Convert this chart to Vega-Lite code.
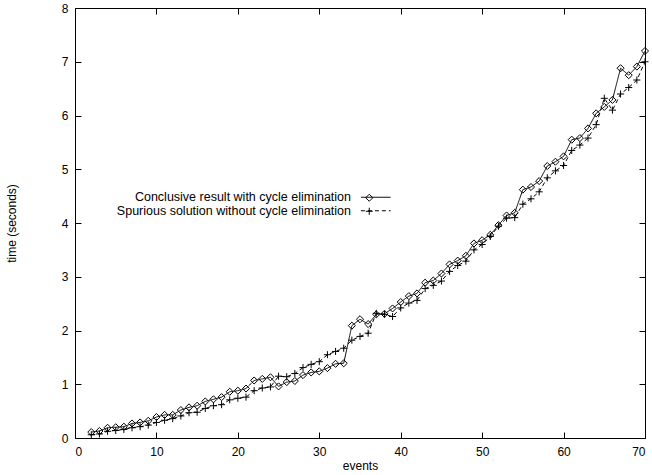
{
  "$schema": "https://vega.github.io/schema/vega-lite/v6.json",
  "width": 570,
  "height": 430,
  "autosize": {"type": "none"},
  "padding": {"left": 75, "top": 8, "right": 7, "bottom": 37},
  "background": "white",
  "config": {
    "view": {"stroke": "black", "strokeWidth": 1},
    "axis": {
      "domain": false, "grid": false, "tickColor": "black", "tickSize": -6, "tickWidth": 1,
      "labelFont": "Liberation Sans", "labelFontSize": 12, "labelColor": "black",
      "titleFont": "Liberation Sans", "titleFontSize": 12, "titleFontWeight": "normal", "titleColor": "black"
    }
  },
  "datasets": {
    "d": [
      {"events": 2, "series": "Conclusive result with cycle elimination", "time": 0.11},
      {"events": 3, "series": "Conclusive result with cycle elimination", "time": 0.13},
      {"events": 4, "series": "Conclusive result with cycle elimination", "time": 0.19},
      {"events": 5, "series": "Conclusive result with cycle elimination", "time": 0.2},
      {"events": 6, "series": "Conclusive result with cycle elimination", "time": 0.21},
      {"events": 7, "series": "Conclusive result with cycle elimination", "time": 0.27},
      {"events": 8, "series": "Conclusive result with cycle elimination", "time": 0.29},
      {"events": 9, "series": "Conclusive result with cycle elimination", "time": 0.32},
      {"events": 10, "series": "Conclusive result with cycle elimination", "time": 0.39},
      {"events": 11, "series": "Conclusive result with cycle elimination", "time": 0.43},
      {"events": 12, "series": "Conclusive result with cycle elimination", "time": 0.43},
      {"events": 13, "series": "Conclusive result with cycle elimination", "time": 0.52},
      {"events": 14, "series": "Conclusive result with cycle elimination", "time": 0.57},
      {"events": 15, "series": "Conclusive result with cycle elimination", "time": 0.6},
      {"events": 16, "series": "Conclusive result with cycle elimination", "time": 0.68},
      {"events": 17, "series": "Conclusive result with cycle elimination", "time": 0.72},
      {"events": 18, "series": "Conclusive result with cycle elimination", "time": 0.76},
      {"events": 19, "series": "Conclusive result with cycle elimination", "time": 0.86},
      {"events": 20, "series": "Conclusive result with cycle elimination", "time": 0.88},
      {"events": 21, "series": "Conclusive result with cycle elimination", "time": 0.92},
      {"events": 22, "series": "Conclusive result with cycle elimination", "time": 1.07},
      {"events": 23, "series": "Conclusive result with cycle elimination", "time": 1.1},
      {"events": 24, "series": "Conclusive result with cycle elimination", "time": 1.13},
      {"events": 25, "series": "Conclusive result with cycle elimination", "time": 0.96},
      {"events": 26, "series": "Conclusive result with cycle elimination", "time": 1.04},
      {"events": 27, "series": "Conclusive result with cycle elimination", "time": 1.06},
      {"events": 28, "series": "Conclusive result with cycle elimination", "time": 1.17},
      {"events": 29, "series": "Conclusive result with cycle elimination", "time": 1.22},
      {"events": 30, "series": "Conclusive result with cycle elimination", "time": 1.24},
      {"events": 31, "series": "Conclusive result with cycle elimination", "time": 1.3},
      {"events": 32, "series": "Conclusive result with cycle elimination", "time": 1.38},
      {"events": 33, "series": "Conclusive result with cycle elimination", "time": 1.39},
      {"events": 34, "series": "Conclusive result with cycle elimination", "time": 2.09},
      {"events": 35, "series": "Conclusive result with cycle elimination", "time": 2.21},
      {"events": 36, "series": "Conclusive result with cycle elimination", "time": 2.12},
      {"events": 37, "series": "Conclusive result with cycle elimination", "time": 2.3},
      {"events": 38, "series": "Conclusive result with cycle elimination", "time": 2.31},
      {"events": 39, "series": "Conclusive result with cycle elimination", "time": 2.41},
      {"events": 40, "series": "Conclusive result with cycle elimination", "time": 2.53},
      {"events": 41, "series": "Conclusive result with cycle elimination", "time": 2.64},
      {"events": 42, "series": "Conclusive result with cycle elimination", "time": 2.69},
      {"events": 43, "series": "Conclusive result with cycle elimination", "time": 2.89},
      {"events": 44, "series": "Conclusive result with cycle elimination", "time": 2.93},
      {"events": 45, "series": "Conclusive result with cycle elimination", "time": 3.06},
      {"events": 46, "series": "Conclusive result with cycle elimination", "time": 3.23},
      {"events": 47, "series": "Conclusive result with cycle elimination", "time": 3.3},
      {"events": 48, "series": "Conclusive result with cycle elimination", "time": 3.39},
      {"events": 49, "series": "Conclusive result with cycle elimination", "time": 3.62},
      {"events": 50, "series": "Conclusive result with cycle elimination", "time": 3.68},
      {"events": 51, "series": "Conclusive result with cycle elimination", "time": 3.78},
      {"events": 52, "series": "Conclusive result with cycle elimination", "time": 3.96},
      {"events": 53, "series": "Conclusive result with cycle elimination", "time": 4.14},
      {"events": 54, "series": "Conclusive result with cycle elimination", "time": 4.19},
      {"events": 55, "series": "Conclusive result with cycle elimination", "time": 4.62},
      {"events": 56, "series": "Conclusive result with cycle elimination", "time": 4.67},
      {"events": 57, "series": "Conclusive result with cycle elimination", "time": 4.78},
      {"events": 58, "series": "Conclusive result with cycle elimination", "time": 5.06},
      {"events": 59, "series": "Conclusive result with cycle elimination", "time": 5.14},
      {"events": 60, "series": "Conclusive result with cycle elimination", "time": 5.24},
      {"events": 61, "series": "Conclusive result with cycle elimination", "time": 5.55},
      {"events": 62, "series": "Conclusive result with cycle elimination", "time": 5.58},
      {"events": 63, "series": "Conclusive result with cycle elimination", "time": 5.76},
      {"events": 64, "series": "Conclusive result with cycle elimination", "time": 6.04},
      {"events": 65, "series": "Conclusive result with cycle elimination", "time": 6.16},
      {"events": 66, "series": "Conclusive result with cycle elimination", "time": 6.29},
      {"events": 67, "series": "Conclusive result with cycle elimination", "time": 6.88},
      {"events": 68, "series": "Conclusive result with cycle elimination", "time": 6.75},
      {"events": 69, "series": "Conclusive result with cycle elimination", "time": 6.91},
      {"events": 70, "series": "Conclusive result with cycle elimination", "time": 7.2},
      {"events": 2, "series": "Spurious solution without cycle elimination", "time": 0.06},
      {"events": 3, "series": "Spurious solution without cycle elimination", "time": 0.075},
      {"events": 4, "series": "Spurious solution without cycle elimination", "time": 0.125},
      {"events": 5, "series": "Spurious solution without cycle elimination", "time": 0.14},
      {"events": 6, "series": "Spurious solution without cycle elimination", "time": 0.16},
      {"events": 7, "series": "Spurious solution without cycle elimination", "time": 0.19},
      {"events": 8, "series": "Spurious solution without cycle elimination", "time": 0.21},
      {"events": 9, "series": "Spurious solution without cycle elimination", "time": 0.24},
      {"events": 10, "series": "Spurious solution without cycle elimination", "time": 0.29},
      {"events": 11, "series": "Spurious solution without cycle elimination", "time": 0.33},
      {"events": 12, "series": "Spurious solution without cycle elimination", "time": 0.36},
      {"events": 13, "series": "Spurious solution without cycle elimination", "time": 0.41},
      {"events": 14, "series": "Spurious solution without cycle elimination", "time": 0.47},
      {"events": 15, "series": "Spurious solution without cycle elimination", "time": 0.48},
      {"events": 16, "series": "Spurious solution without cycle elimination", "time": 0.55},
      {"events": 17, "series": "Spurious solution without cycle elimination", "time": 0.6},
      {"events": 18, "series": "Spurious solution without cycle elimination", "time": 0.62},
      {"events": 19, "series": "Spurious solution without cycle elimination", "time": 0.71},
      {"events": 20, "series": "Spurious solution without cycle elimination", "time": 0.74},
      {"events": 21, "series": "Spurious solution without cycle elimination", "time": 0.76},
      {"events": 22, "series": "Spurious solution without cycle elimination", "time": 0.88},
      {"events": 23, "series": "Spurious solution without cycle elimination", "time": 0.93},
      {"events": 24, "series": "Spurious solution without cycle elimination", "time": 0.95},
      {"events": 25, "series": "Spurious solution without cycle elimination", "time": 1.15},
      {"events": 26, "series": "Spurious solution without cycle elimination", "time": 1.14},
      {"events": 27, "series": "Spurious solution without cycle elimination", "time": 1.2},
      {"events": 28, "series": "Spurious solution without cycle elimination", "time": 1.31},
      {"events": 29, "series": "Spurious solution without cycle elimination", "time": 1.37},
      {"events": 30, "series": "Spurious solution without cycle elimination", "time": 1.42},
      {"events": 31, "series": "Spurious solution without cycle elimination", "time": 1.55},
      {"events": 32, "series": "Spurious solution without cycle elimination", "time": 1.61},
      {"events": 33, "series": "Spurious solution without cycle elimination", "time": 1.67},
      {"events": 34, "series": "Spurious solution without cycle elimination", "time": 1.82},
      {"events": 35, "series": "Spurious solution without cycle elimination", "time": 1.89},
      {"events": 36, "series": "Spurious solution without cycle elimination", "time": 1.95},
      {"events": 37, "series": "Spurious solution without cycle elimination", "time": 2.32},
      {"events": 38, "series": "Spurious solution without cycle elimination", "time": 2.3},
      {"events": 39, "series": "Spurious solution without cycle elimination", "time": 2.26},
      {"events": 40, "series": "Spurious solution without cycle elimination", "time": 2.42},
      {"events": 41, "series": "Spurious solution without cycle elimination", "time": 2.51},
      {"events": 42, "series": "Spurious solution without cycle elimination", "time": 2.56},
      {"events": 43, "series": "Spurious solution without cycle elimination", "time": 2.78},
      {"events": 44, "series": "Spurious solution without cycle elimination", "time": 2.84},
      {"events": 45, "series": "Spurious solution without cycle elimination", "time": 2.92},
      {"events": 46, "series": "Spurious solution without cycle elimination", "time": 3.1},
      {"events": 47, "series": "Spurious solution without cycle elimination", "time": 3.21},
      {"events": 48, "series": "Spurious solution without cycle elimination", "time": 3.29},
      {"events": 49, "series": "Spurious solution without cycle elimination", "time": 3.5},
      {"events": 50, "series": "Spurious solution without cycle elimination", "time": 3.6},
      {"events": 51, "series": "Spurious solution without cycle elimination", "time": 3.75},
      {"events": 52, "series": "Spurious solution without cycle elimination", "time": 3.94},
      {"events": 53, "series": "Spurious solution without cycle elimination", "time": 4.09},
      {"events": 54, "series": "Spurious solution without cycle elimination", "time": 4.1},
      {"events": 55, "series": "Spurious solution without cycle elimination", "time": 4.35},
      {"events": 56, "series": "Spurious solution without cycle elimination", "time": 4.45},
      {"events": 57, "series": "Spurious solution without cycle elimination", "time": 4.58},
      {"events": 58, "series": "Spurious solution without cycle elimination", "time": 4.84},
      {"events": 59, "series": "Spurious solution without cycle elimination", "time": 4.97},
      {"events": 60, "series": "Spurious solution without cycle elimination", "time": 5.07},
      {"events": 61, "series": "Spurious solution without cycle elimination", "time": 5.35},
      {"events": 62, "series": "Spurious solution without cycle elimination", "time": 5.45},
      {"events": 63, "series": "Spurious solution without cycle elimination", "time": 5.58},
      {"events": 64, "series": "Spurious solution without cycle elimination", "time": 5.83},
      {"events": 65, "series": "Spurious solution without cycle elimination", "time": 6.32},
      {"events": 66, "series": "Spurious solution without cycle elimination", "time": 6.1},
      {"events": 67, "series": "Spurious solution without cycle elimination", "time": 6.4},
      {"events": 68, "series": "Spurious solution without cycle elimination", "time": 6.52},
      {"events": 69, "series": "Spurious solution without cycle elimination", "time": 6.66},
      {"events": 70, "series": "Spurious solution without cycle elimination", "time": 7.0}
    ]
  },
  "data": {"name": "d"},
  "layer": [
    {
      "mark": {"type": "line", "color": "black", "strokeWidth": 1},
      "encoding": {
        "x": {"field": "events", "type": "quantitative", "scale": {"domain": [0, 70], "nice": false},
              "axis": {"orient": "bottom", "values": [0, 10, 20, 30, 40, 50, 60, 70], "title": "events", "labelPadding": 14, "titlePadding": 3}},
        "y": {"field": "time", "type": "quantitative", "scale": {"domain": [0, 8], "nice": false},
              "axis": {"orient": "left", "values": [0, 1, 2, 3, 4, 5, 6, 7, 8], "title": "time (seconds)", "labelPadding": 13, "titlePadding": 43}},
        "strokeDash": {"field": "series", "type": "nominal",
          "scale": {"domain": ["Conclusive result with cycle elimination", "Spurious solution without cycle elimination"], "range": [[1, 0], [4, 3]]},
          "legend": {
            "orient": "none", "legendX": 294.5, "legendY": 183, "title": null,
            "labelAlign": "right", "labelOffset": -31, "labelFont": "Liberation Sans", "labelFontSize": 12.5, "labelColor": "black", "labelLimit": 400,
            "symbolType": "M-3.3,0L3.3,0", "symbolSize": 81, "rowPadding": 0.5, "padding": 0,
            "symbolStrokeColor": "black", "symbolStrokeWidth": 1, "symbolOpacity": 1, "symbolFillColor": "transparent"
          }
        }
      }
    },
    {
      "mark": {"type": "point", "filled": false, "color": "black", "strokeWidth": 1, "size": 50, "opacity": 1},
      "encoding": {
        "x": {"field": "events", "type": "quantitative", "scale": {"domain": [0, 70], "nice": false},
              "axis": {"orient": "top", "values": [0, 10, 20, 30, 40, 50, 60, 70], "labels": false, "title": null}},
        "y": {"field": "time", "type": "quantitative", "scale": {"domain": [0, 8], "nice": false},
              "axis": {"orient": "right", "values": [0, 1, 2, 3, 4, 5, 6, 7, 8], "labels": false, "title": null}},
        "shape": {"field": "series", "type": "nominal",
          "scale": {"domain": ["Spurious solution without cycle elimination", "Conclusive result with cycle elimination"], "range": ["M-1,0L1,0M0,-1L0,1", "diamond"]},
          "legend": {
            "orient": "none", "legendX": 288, "legendY": 183.5, "title": null,
            "values": ["Conclusive result with cycle elimination", "Spurious solution without cycle elimination"],
            "labelOpacity": 0, "labelFontSize": 12.5, "labelLimit": 400,
            "symbolSize": 50, "rowPadding": 0.5, "padding": 0,
            "symbolStrokeColor": "black", "symbolStrokeWidth": 1, "symbolFillColor": "white", "symbolOpacity": 1
          }}
      }
    }
  ],
  "resolve": {"axis": {"x": "independent", "y": "independent"}}
}
